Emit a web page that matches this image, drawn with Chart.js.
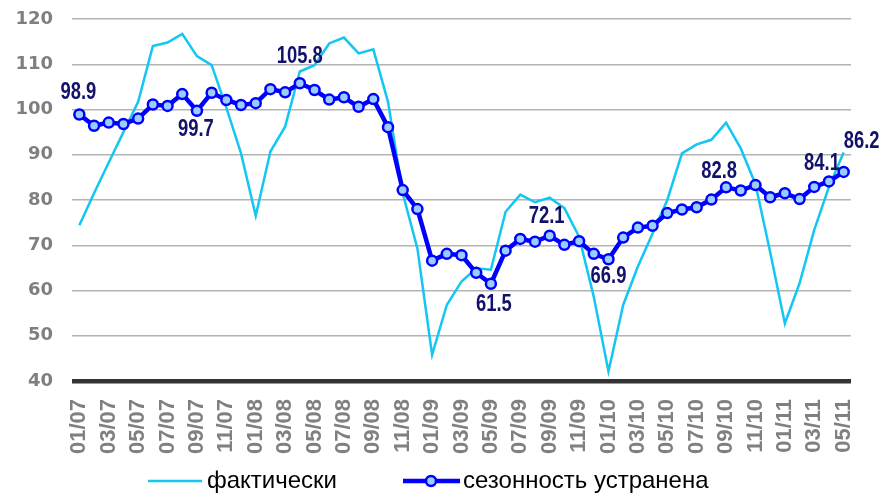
<!DOCTYPE html>
<html>
<head>
<meta charset="utf-8">
<script src="https://cdn.jsdelivr.net/npm/chart.js@4"></script>
<style>
  body { margin: 0; background: #fff; }
  canvas { display: block; }
</style>
</head>
<body>
<canvas id="chart" width="879" height="494"></canvas>
<script>
// месяцы 01/07 .. 05/11
const months = [
  '01/07','02/07','03/07','04/07','05/07','06/07','07/07','08/07','09/07','10/07','11/07','12/07',
  '01/08','02/08','03/08','04/08','05/08','06/08','07/08','08/08','09/08','10/08','11/08','12/08',
  '01/09','02/09','03/09','04/09','05/09','06/09','07/09','08/09','09/09','10/09','11/09','12/09',
  '01/10','02/10','03/10','04/10','05/10','06/10','07/10','08/10','09/10','10/10','11/10','12/10',
  '01/11','02/11','03/11','04/11','05/11'
];

// фактически
const actual = [
  74.4, 81.5, 88.3, 95.0, 101.7, 114.0, 114.8, 116.7, 111.8, 109.8, 100.4, 90.3,
  76.5, 90.7, 96.2, 108.4, 109.8, 114.6, 115.9, 112.4, 113.3, 101.7, 81.5, 69.3,
  45.8, 56.8, 62.0, 64.9, 64.6, 77.4, 81.2, 79.5, 80.5, 78.2, 71.9, 58.6,
  42.1, 56.8, 65.3, 72.6, 80.0, 90.3, 92.3, 93.3, 97.1, 91.4, 83.5, 68.5,
  52.7, 61.6, 73.4, 82.9, 90.5
];

// сезонность устранена
const seasAdj = [
  98.9, 96.4, 97.1, 96.8, 98.0, 101.1, 100.8, 103.4, 99.7, 103.7, 102.1, 101.0,
  101.4, 104.5, 103.8, 105.8, 104.3, 102.2, 102.7, 100.6, 102.3, 96.1, 82.2, 78.0,
  66.6, 68.1, 67.8, 63.9, 61.5, 68.8, 71.4, 70.8, 72.1, 70.1, 70.9, 68.1,
  66.9, 71.7, 73.9, 74.3, 77.1, 77.9, 78.4, 80.1, 82.8, 82.1, 83.3, 80.6,
  81.5, 80.2, 82.9, 84.1, 86.2
];

// точки с подписями
const labelIdx = [0, 8, 15, 28, 32, 36, 44, 51, 52];

const seriesNames = ['фактически', 'сезонность устранена'];

const CYAN = '#14c6f2';
const BLUE = '#0000ff';
const MARK = '#99ccff';

// подписи значений (смещения относительно точки)
const labelOffsets = {
  0: [-1, -22], 8: [-1, 19], 15: [0, -27], 28: [3, 21], 32: [-3, -19],
  36: [0, 17], 44: [-7, -16], 51: [-7, -18], 52: [18, -30]
};

const valueLabels = {
  id: 'valueLabels',
  afterDatasetsDraw(chart) {
    const ctx = chart.ctx;
    const meta = chart.getDatasetMeta(1);
    const sx = 0.8; // узкий шрифт
    ctx.save();
    ctx.font = 'bold 23px "Liberation Sans", Arial';
    ctx.fillStyle = '#12126b';
    ctx.textAlign = 'center';
    ctx.textBaseline = 'middle';
    labelIdx.forEach(i => {
      const pt = meta.data[i];
      const off = labelOffsets[i] || [0, -20];
      ctx.save();
      ctx.translate(pt.x + off[0], pt.y + off[1]);
      ctx.scale(sx, 1);
      ctx.fillText(seasAdj[i].toFixed(1), 0, 0);
      ctx.restore();
    });
    ctx.restore();
  }
};

// легенда внизу
const bottomLegend = {
  id: 'bottomLegend',
  afterDraw(chart) {
    const ctx = chart.ctx;
    const y = 481;
    ctx.save();
    ctx.font = '24px "Liberation Sans", Arial';
    ctx.fillStyle = '#000';
    ctx.textBaseline = 'middle';

    ctx.strokeStyle = CYAN;
    ctx.lineWidth = 2.5;
    ctx.beginPath(); ctx.moveTo(148, y); ctx.lineTo(202, y); ctx.stroke();
    ctx.fillText(seriesNames[0], 207, y);

    ctx.strokeStyle = BLUE;
    ctx.lineWidth = 4.5;
    ctx.beginPath(); ctx.moveTo(403, y); ctx.lineTo(460, y); ctx.stroke();
    ctx.beginPath(); ctx.arc(431, y, 5, 0, Math.PI * 2);
    ctx.fillStyle = MARK; ctx.fill();
    ctx.lineWidth = 2.5; ctx.stroke();
    ctx.fillStyle = '#000';
    ctx.fillText(seriesNames[1], 463, y);
    ctx.restore();
  }
};

new Chart(document.getElementById('chart'), {
  type: 'line',
  data: {
    labels: months,
    datasets: [
      {
        label: seriesNames[0],
        data: actual,
        borderColor: CYAN,
        borderWidth: 2.5,
        pointRadius: 0,
        tension: 0,
        order: 1
      },
      {
        label: seriesNames[1],
        data: seasAdj,
        borderColor: BLUE,
        borderWidth: 4.5,
        pointRadius: 5,
        pointBackgroundColor: MARK,
        pointBorderColor: BLUE,
        pointBorderWidth: 2.5,
        tension: 0,
        order: 0
      }
    ]
  },
  options: {
    responsive: false,
    animation: false,
    devicePixelRatio: 1,
    layout: { padding: { top: 19, right: 28, left: 0, bottom: 0 } },
    plugins: {
      legend: { display: false },
      tooltip: { enabled: false }
    },
    scales: {
      x: {
        offset: true,
        grid: { display: false, drawTicks: false },
        border: { display: false },
        ticks: {
          autoSkip: false,
          minRotation: 90,
          maxRotation: 90,
          padding: 18,
          color: '#808080',
          font: { family: '"Liberation Sans", Arial', weight: 'bold', size: 22 },
          callback: function (v, i) { return i % 2 === 0 ? this.getLabelForValue(v) : ''; }
        },
        afterFit: s => { s.height = 113; s.paddingLeft = 0; s.paddingRight = 0; }
      },
      y: {
        min: 40,
        max: 120,
        ticks: {
          stepSize: 10,
          padding: 19,
          color: '#7f7f7f',
          font: { family: '"DejaVu Sans", Verdana', weight: 'bold', size: 18 }
        },
        grid: {
          drawTicks: false,
          color: c => c.tick.value === 40 ? '#333333' : '#b4b4b4',
          lineWidth: c => c.tick.value === 40 ? 4.5 : 1.5
        },
        border: { display: false },
        afterFit: s => { s.width = 72; s.paddingTop = 0; s.paddingBottom = 0; }
      }
    }
  },
  plugins: [valueLabels, bottomLegend]
});
</script>
</body>
</html>
